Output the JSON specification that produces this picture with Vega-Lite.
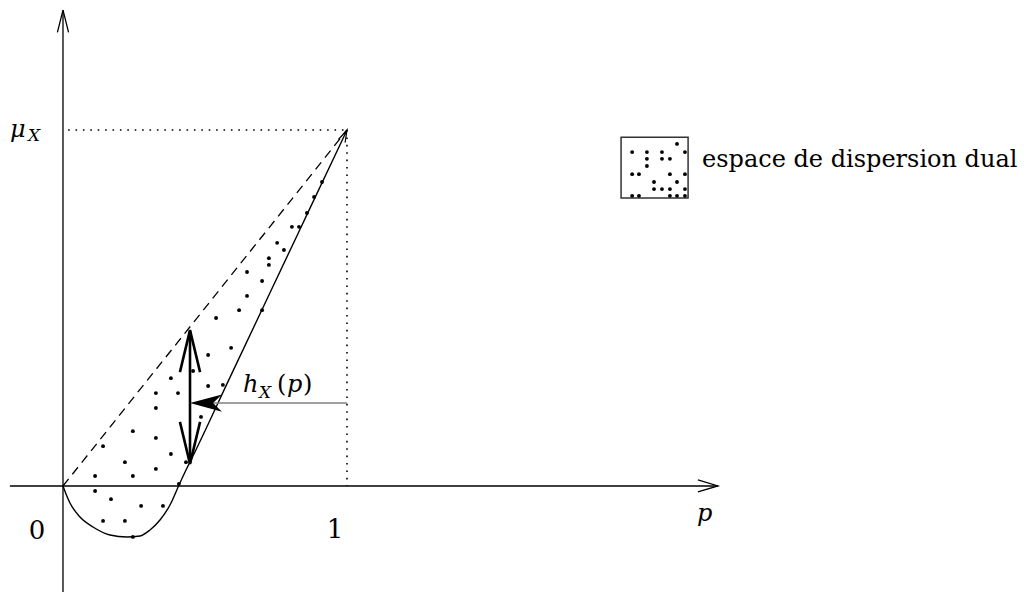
{
  "$schema": "https://vega.github.io/schema/vega-lite/v6.json",
  "width": 1026,
  "height": 595,
  "autosize": {"type": "none"},
  "padding": 0,
  "background": "white",
  "config": {"view": {"stroke": null}},
  "datasets": {
    "axes": [
      {"name": "xaxis", "x": -0.187, "y": 0, "x2": 2.306, "y2": 0},
      {"name": "yaxis", "x": 0, "y": -0.298, "x2": 0, "y2": 1.337}
    ],
    "dotted": [
      {"name": "hmu", "x": 0.018, "y": 1, "x2": 1, "y2": 1},
      {"name": "vone", "x": 1, "y": 1, "x2": 1, "y2": 0}
    ],
    "dashed": [
      {"name": "chord", "x": 0, "y": 0, "x2": 1, "y2": 1}
    ],
    "thick": [
      {"name": "h", "x": 0.4472, "y": 0.064, "x2": 0.4472, "y2": 0.436}
    ],
    "grayline": [
      {"name": "pointer", "x": 0.52, "y": 0.233, "x2": 1, "y2": 0.233}
    ],
    "curve": [
      {"x": 0, "y": 0},
      {"x": 0.0106, "y": -0.0225},
      {"x": 0.0246, "y": -0.0478},
      {"x": 0.0599, "y": -0.0871},
      {"x": 0.1056, "y": -0.1152},
      {"x": 0.1655, "y": -0.1376},
      {"x": 0.2254, "y": -0.1433},
      {"x": 0.2711, "y": -0.1404},
      {"x": 0.3063, "y": -0.1236},
      {"x": 0.3415, "y": -0.0955},
      {"x": 0.3768, "y": -0.0534},
      {"x": 0.4085, "y": 0.0028},
      {"x": 0.4366, "y": 0.0506},
      {"x": 0.4472, "y": 0.0674},
      {"x": 0.588, "y": 0.3051},
      {"x": 0.7218, "y": 0.5309},
      {"x": 0.8627, "y": 0.7685},
      {"x": 1, "y": 1}
    ],
    "dots": [
      {"x": 0.912, "y": 0.854}, {"x": 0.884, "y": 0.812}, {"x": 0.859, "y": 0.767},
      {"x": 0.806, "y": 0.728}, {"x": 0.831, "y": 0.728}, {"x": 0.754, "y": 0.683},
      {"x": 0.778, "y": 0.663}, {"x": 0.725, "y": 0.64}, {"x": 0.725, "y": 0.621},
      {"x": 0.648, "y": 0.601}, {"x": 0.701, "y": 0.576}, {"x": 0.648, "y": 0.534},
      {"x": 0.62, "y": 0.494}, {"x": 0.701, "y": 0.494}, {"x": 0.539, "y": 0.472},
      {"x": 0.592, "y": 0.388}, {"x": 0.511, "y": 0.368}, {"x": 0.458, "y": 0.323},
      {"x": 0.38, "y": 0.303}, {"x": 0.511, "y": 0.281}, {"x": 0.563, "y": 0.284},
      {"x": 0.327, "y": 0.261}, {"x": 0.405, "y": 0.261}, {"x": 0.327, "y": 0.219},
      {"x": 0.486, "y": 0.194}, {"x": 0.246, "y": 0.154}, {"x": 0.327, "y": 0.135},
      {"x": 0.141, "y": 0.112}, {"x": 0.38, "y": 0.09}, {"x": 0.218, "y": 0.067},
      {"x": 0.433, "y": 0.067}, {"x": 0.113, "y": 0.028}, {"x": 0.246, "y": 0.028},
      {"x": 0.327, "y": 0.048}, {"x": 0.408, "y": 0.006}, {"x": 0.113, "y": -0.014},
      {"x": 0.169, "y": -0.037}, {"x": 0.275, "y": -0.056}, {"x": 0.352, "y": -0.056},
      {"x": 0.141, "y": -0.098}, {"x": 0.218, "y": -0.098}, {"x": 0.246, "y": -0.143}
    ],
    "legendbox": [
      {"x": 1.965, "x2": 2.201, "y": 0.98, "y2": 0.809}
    ],
    "legenddots": [
      {"x": 2.162, "y": 0.961},
      {"x": 2.004, "y": 0.938}, {"x": 2.056, "y": 0.938}, {"x": 2.109, "y": 0.938}, {"x": 2.19, "y": 0.938},
      {"x": 2.056, "y": 0.919}, {"x": 2.109, "y": 0.919}, {"x": 2.137, "y": 0.919},
      {"x": 2.056, "y": 0.899},
      {"x": 2.004, "y": 0.876}, {"x": 2.028, "y": 0.876}, {"x": 2.137, "y": 0.876}, {"x": 2.19, "y": 0.876},
      {"x": 2.081, "y": 0.854}, {"x": 2.162, "y": 0.854},
      {"x": 2.081, "y": 0.834}, {"x": 2.109, "y": 0.834}, {"x": 2.137, "y": 0.834}, {"x": 2.19, "y": 0.834},
      {"x": 2.004, "y": 0.815}, {"x": 2.028, "y": 0.815}, {"x": 2.137, "y": 0.815}, {"x": 2.162, "y": 0.815}, {"x": 2.19, "y": 0.815}
    ],
    "heads": [
      {"name": "xaxis", "x": 2.306, "y": 0},
      {"name": "yaxis", "x": 0, "y": 1.337},
      {"name": "curve", "x": 1, "y": 1},
      {"name": "thicktop", "x": 0.4472, "y": 0.438},
      {"name": "thickbottom", "x": 0.4472, "y": 0.062},
      {"name": "pointer", "x": 0.4472, "y": 0.233}
    ],
    "textcenter": [
      {"text": "0", "x": -0.0915, "y": -0.149},
      {"text": "1", "x": 0.9577, "y": -0.146}
    ],
    "textleft": [
      {"text": "espace de dispersion dual", "x": 2.25, "y": 0.8961},
      {"text": "(", "x": 0.7535, "y": 0.264},
      {"text": ")", "x": 0.8451, "y": 0.264}
    ],
    "textitalic": [
      {"text": "μ", "x": -0.1866, "y": 0.9803},
      {"text": "h", "x": 0.6338, "y": 0.264},
      {"text": "p", "x": 0.7887, "y": 0.264},
      {"text": "p", "x": 2.2324, "y": -0.098}
    ],
    "textsub": [
      {"text": "X", "x": -0.1232, "y": 0.9691},
      {"text": "X", "x": 0.6901, "y": 0.2472}
    ]
  },
  "encoding": {
    "x": {"field": "x", "type": "quantitative", "scale": {"domain": [-0.2218, 3.3908], "nice": false, "zero": false}, "axis": null},
    "y": {"field": "y", "type": "quantitative", "scale": {"domain": [-0.3062, 1.3652], "nice": false, "zero": false}, "axis": null}
  },
  "layer": [
    {
      "data": {"name": "legendbox"},
      "mark": {"type": "rect", "fill": "white", "stroke": "#333333", "strokeWidth": 1.5},
      "encoding": {"x2": {"field": "x2"}, "y2": {"field": "y2"}}
    },
    {
      "data": {"name": "axes"},
      "mark": {"type": "rule", "color": "black", "strokeWidth": 1.3},
      "encoding": {"x2": {"field": "x2"}, "y2": {"field": "y2"}}
    },
    {
      "data": {"name": "dotted"},
      "mark": {"type": "rule", "color": "black", "strokeWidth": 1.6, "strokeDash": [1.6, 5.8]},
      "encoding": {"x2": {"field": "x2"}, "y2": {"field": "y2"}}
    },
    {
      "data": {"name": "dashed"},
      "mark": {"type": "rule", "color": "black", "strokeWidth": 1.3, "strokeDash": [9, 6]},
      "encoding": {"x2": {"field": "x2"}, "y2": {"field": "y2"}}
    },
    {
      "data": {"name": "curve"},
      "mark": {"type": "line", "color": "black", "strokeWidth": 1.4, "interpolate": "monotone"},
      "encoding": {"order": {"field": "x", "type": "quantitative"}}
    },
    {
      "data": {"name": "thick"},
      "mark": {"type": "rule", "color": "black", "strokeWidth": 2.6},
      "encoding": {"x2": {"field": "x2"}, "y2": {"field": "y2"}}
    },
    {
      "data": {"name": "grayline"},
      "mark": {"type": "rule", "color": "#808080", "strokeWidth": 1.6},
      "encoding": {"x2": {"field": "x2"}, "y2": {"field": "y2"}}
    },
    {
      "data": {"name": "dots"},
      "mark": {"type": "point", "filled": true, "color": "black", "opacity": 1, "size": 15, "shape": "circle"}
    },
    {
      "data": {"name": "legenddots"},
      "mark": {"type": "point", "filled": true, "color": "black", "opacity": 1, "size": 15, "shape": "circle"}
    },
    {
      "data": {"name": "heads"},
      "transform": [{"filter": "datum.name === 'xaxis'"}],
      "mark": {"type": "point", "filled": false, "color": "black", "opacity": 1, "strokeWidth": 1.3, "shape": "M-0.3,1L0,0L0.3,1", "size": 1600, "angle": 90}
    },
    {
      "data": {"name": "heads"},
      "transform": [{"filter": "datum.name === 'yaxis'"}],
      "mark": {"type": "point", "filled": false, "color": "black", "opacity": 1, "strokeWidth": 1.3, "shape": "M-0.25,1L0,0L0.25,1", "size": 2000, "angle": 0}
    },
    {
      "data": {"name": "heads"},
      "transform": [{"filter": "datum.name === 'curve'"}],
      "mark": {"type": "point", "filled": false, "color": "black", "opacity": 1, "strokeWidth": 1.2, "shape": "M-0.3,1L0,0L0.3,1", "size": 600, "angle": 25.2}
    },
    {
      "data": {"name": "heads"},
      "transform": [{"filter": "datum.name === 'thicktop'"}],
      "mark": {"type": "point", "filled": false, "color": "black", "opacity": 1, "strokeWidth": 2.6, "shape": "M-0.24,1L0,0L0.24,1", "size": 7056, "angle": 0}
    },
    {
      "data": {"name": "heads"},
      "transform": [{"filter": "datum.name === 'thickbottom'"}],
      "mark": {"type": "point", "filled": false, "color": "black", "opacity": 1, "strokeWidth": 2.6, "shape": "M-0.24,1L0,0L0.24,1", "size": 7056, "angle": 180}
    },
    {
      "data": {"name": "heads"},
      "transform": [{"filter": "datum.name === 'pointer'"}],
      "mark": {"type": "point", "filled": true, "color": "black", "opacity": 1, "shape": "M0,0L-0.27,1L0,0.72L0.27,1Z", "size": 4096, "angle": 270}
    },
    {
      "data": {"name": "textcenter"},
      "mark": {"type": "text", "font": "DejaVu Serif", "fontSize": 26, "align": "center", "baseline": "alphabetic", "color": "black"},
      "encoding": {"text": {"field": "text"}}
    },
    {
      "data": {"name": "textleft"},
      "mark": {"type": "text", "font": "DejaVu Serif", "fontSize": 24, "align": "left", "baseline": "alphabetic", "color": "black"},
      "encoding": {"text": {"field": "text"}}
    },
    {
      "data": {"name": "textitalic"},
      "mark": {"type": "text", "font": "DejaVu Serif", "fontStyle": "italic", "fontSize": 24, "align": "left", "baseline": "alphabetic", "color": "black"},
      "encoding": {"text": {"field": "text"}}
    },
    {
      "data": {"name": "textsub"},
      "mark": {"type": "text", "font": "DejaVu Serif", "fontStyle": "italic", "fontSize": 17, "align": "left", "baseline": "alphabetic", "color": "black"},
      "encoding": {"text": {"field": "text"}}
    }
  ]
}
